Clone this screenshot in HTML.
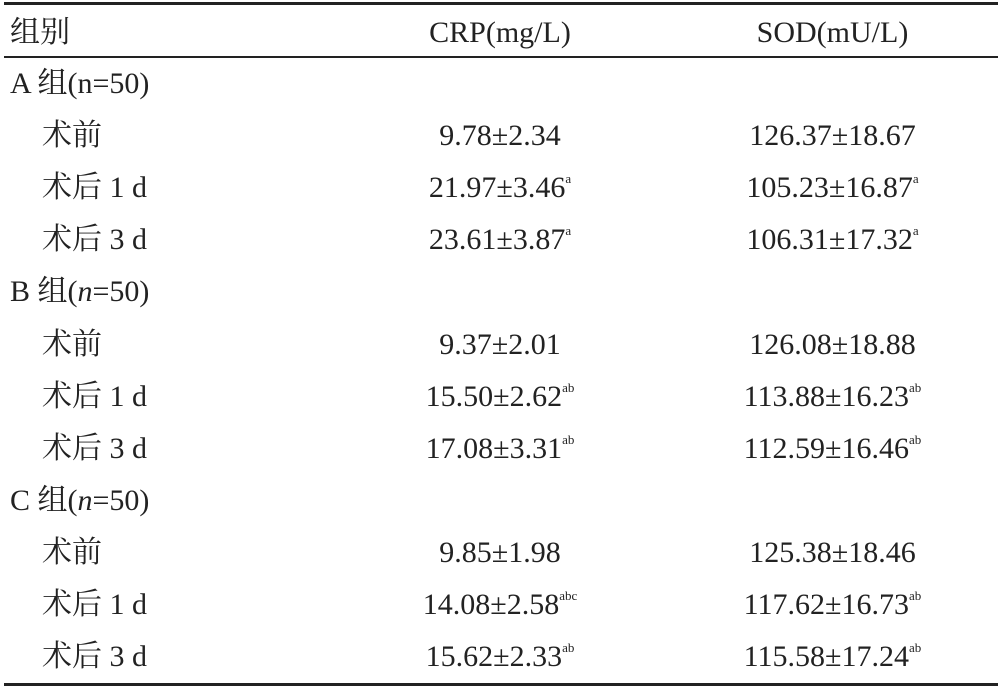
<!DOCTYPE html>
<html><head><meta charset="utf-8">
<style>
body{margin:0;background:#fff;}
#t{position:relative;width:1002px;height:690px;background:#fff;font-family:"Liberation Serif","Noto Serif CJK SC",serif;font-size:30px;color:#222;}
.l{position:absolute;left:4px;width:994px;background:#222;}
.r{position:absolute;height:52px;line-height:52px;white-space:nowrap;}
.c1{position:absolute;left:330px;width:340px;text-align:center;}
.c2{position:absolute;left:665px;width:335px;text-align:center;}
sup{font-size:13px;vertical-align:14px;line-height:0;}
</style></head><body>
<div id="t">
<div class="l" style="top:2px;height:3px"></div>
<div class="l" style="top:56px;height:2px"></div>
<div class="l" style="top:683px;height:3px"></div>

<div class="r" style="top:7px;left:10px;width:990px">
<span>组别</span>
<span class="c1" style="top:0;left:320px">CRP(mg/L)</span>
<span class="c2" style="top:0;left:655px">SOD(mU/L)</span>
</div>

<div class="r" style="top:58px;left:10px">A 组(n=50)</div>
<div class="r" style="top:110px;left:0;width:1002px"><span style="position:absolute;left:42px">术前</span><span class="c1">9.78±2.34</span><span class="c2">126.37±18.67</span></div>
<div class="r" style="top:162px;left:0;width:1002px"><span style="position:absolute;left:42px">术后 1 d</span><span class="c1">21.97±3.46<sup>a</sup></span><span class="c2">105.23±16.87<sup>a</sup></span></div>
<div class="r" style="top:214px;left:0;width:1002px"><span style="position:absolute;left:42px">术后 3 d</span><span class="c1">23.61±3.87<sup>a</sup></span><span class="c2">106.31±17.32<sup>a</sup></span></div>

<div class="r" style="top:266px;left:10px">B 组(<i>n</i>=50)</div>
<div class="r" style="top:319px;left:0;width:1002px"><span style="position:absolute;left:42px">术前</span><span class="c1">9.37±2.01</span><span class="c2">126.08±18.88</span></div>
<div class="r" style="top:371px;left:0;width:1002px"><span style="position:absolute;left:42px">术后 1 d</span><span class="c1">15.50±2.62<sup>ab</sup></span><span class="c2">113.88±16.23<sup>ab</sup></span></div>
<div class="r" style="top:423px;left:0;width:1002px"><span style="position:absolute;left:42px">术后 3 d</span><span class="c1">17.08±3.31<sup>ab</sup></span><span class="c2">112.59±16.46<sup>ab</sup></span></div>

<div class="r" style="top:475px;left:10px">C 组(<i>n</i>=50)</div>
<div class="r" style="top:527px;left:0;width:1002px"><span style="position:absolute;left:42px">术前</span><span class="c1">9.85±1.98</span><span class="c2">125.38±18.46</span></div>
<div class="r" style="top:579px;left:0;width:1002px"><span style="position:absolute;left:42px">术后 1 d</span><span class="c1">14.08±2.58<sup>abc</sup></span><span class="c2">117.62±16.73<sup>ab</sup></span></div>
<div class="r" style="top:631px;left:0;width:1002px"><span style="position:absolute;left:42px">术后 3 d</span><span class="c1">15.62±2.33<sup>ab</sup></span><span class="c2">115.58±17.24<sup>ab</sup></span></div>
</div>
</body></html>
